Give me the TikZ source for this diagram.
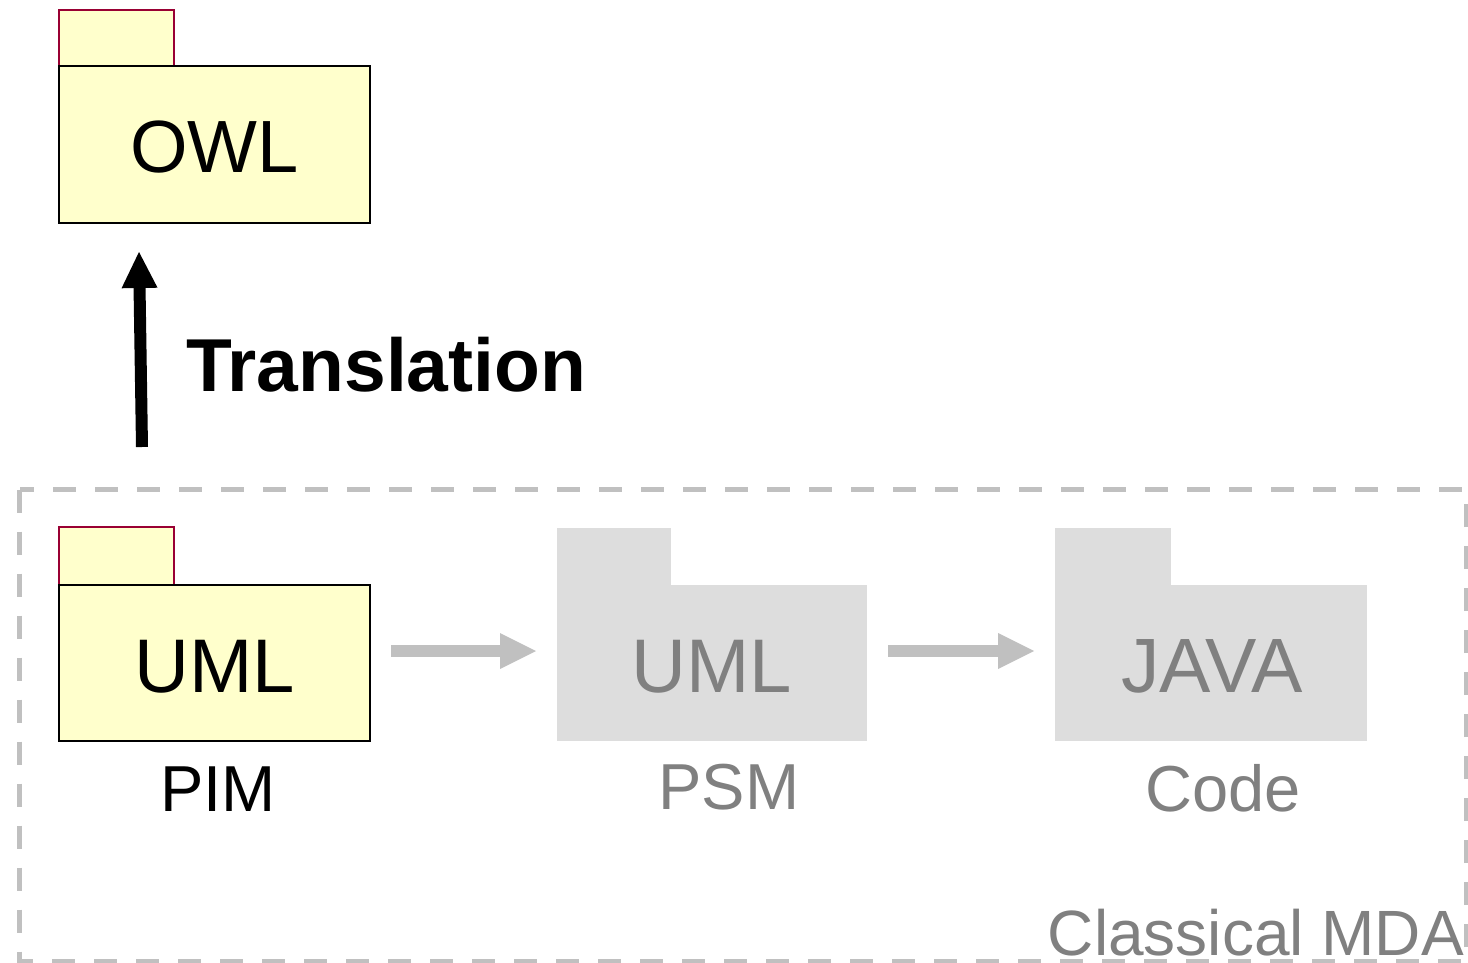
\documentclass[tikz,border=0pt]{standalone}
\usepackage{fontspec}
\setmainfont{Liberation Sans}
\usetikzlibrary{arrows.meta}

\definecolor{pkgfill}{HTML}{FFFFCC}
\definecolor{tabline}{HTML}{990033}
\definecolor{ghostfill}{HTML}{DDDDDD}
\definecolor{ghosttext}{HTML}{808080}
\definecolor{ghostline}{HTML}{C0C0C0}

\newcommand{\bigsize}{\fontsize{76}{80}\selectfont}
\newcommand{\capsize}{\fontsize{65}{70}\selectfont}

\begin{document}
\begin{tikzpicture}[x=1pt,y=-1pt,
  box/.style={inner sep=0pt, outer sep=0pt, anchor=north west},
  tabyellow/.style={box, draw=tabline, fill=pkgfill, line width=2pt},
  bodyyellow/.style={box, draw=black, fill=pkgfill, line width=2pt},
  ghostpart/.style={box, fill=ghostfill},
  txt/.style={inner sep=0pt, outer sep=0pt, anchor=base},
  ghosttxt/.style={txt, text=ghosttext},
  flowarrow/.style={draw=ghostline, line width=12pt,
    -{Triangle[length=36pt,width=36pt,line width=0pt]}},
  translarrow/.style={draw=black, line width=12pt,
    -{Triangle[length=36pt,width=36pt,line width=0pt]}},
  frame/.style={draw=ghostline, line width=4.5pt, dash pattern=on 23pt off 19pt}
]
\useasboundingbox (0,0) rectangle (1468,963);

% OWL package
\node[tabyellow, minimum width=115pt, minimum height=56pt] (owltab) at (59,10) {};
\node[bodyyellow, minimum width=311pt, minimum height=157pt] (owlbody) at (59,66) {};
\node[txt] (owltext) at (214.5,173) {\fontsize{74}{78}\selectfont OWL};

% Classical MDA frame
\draw[frame] (19.5,489.5) rectangle (1466,961);
\node[ghosttxt, anchor=base east] (mdatext) at (1464,955) {\fontsize{64}{68}\selectfont Classical MDA};

% PIM package
\node[tabyellow, minimum width=115pt, minimum height=58pt] (pimtab) at (59,527) {};
\node[bodyyellow, minimum width=311pt, minimum height=156pt] (pimbody) at (59,585) {};
\node[txt] (pimtext) at (214.5,692) {\bigsize UML};
\node[txt] (pimlabel) at (218,811) {\capsize PIM};

% PSM package
\node[ghostpart, minimum width=114pt, minimum height=57pt] (psmtab) at (557,528) {};
\node[ghostpart, minimum width=310pt, minimum height=156pt] (psmbody) at (557,585) {};
\node[ghosttxt] (psmtext) at (712,692) {\bigsize UML};
\node[ghosttxt] (psmlabel) at (729,809) {\capsize PSM};

% Code package
\node[ghostpart, minimum width=116pt, minimum height=57pt] (codetab) at (1055,528) {};
\node[ghostpart, minimum width=312pt, minimum height=156pt] (codebody) at (1055,585) {};
\node[ghosttxt] (codetext) at (1212,692) {\fontsize{77}{80}\selectfont JAVA};
\node[ghosttxt] (codelabel) at (1223,811) {\capsize Code};

% Transformation chain
\draw[flowarrow] ([shift={(21,-12)}]pimbody.east) -- ([shift={(-21,-12)}]psmbody.west);
\draw[flowarrow] ([shift={(21,-12)}]psmbody.east) -- ([shift={(-21,-12)}]codebody.west);

% Translation to OWL
\coordinate (tfoot) at (142,447);
\draw[translarrow] (tfoot) -- ([shift={(-75.5,29)}]owlbody.south);
\node[txt, anchor=base west] (transtext) at (186,391) {\fontsize{75}{78}\selectfont\bfseries Translation};
\end{tikzpicture}
\end{document}
